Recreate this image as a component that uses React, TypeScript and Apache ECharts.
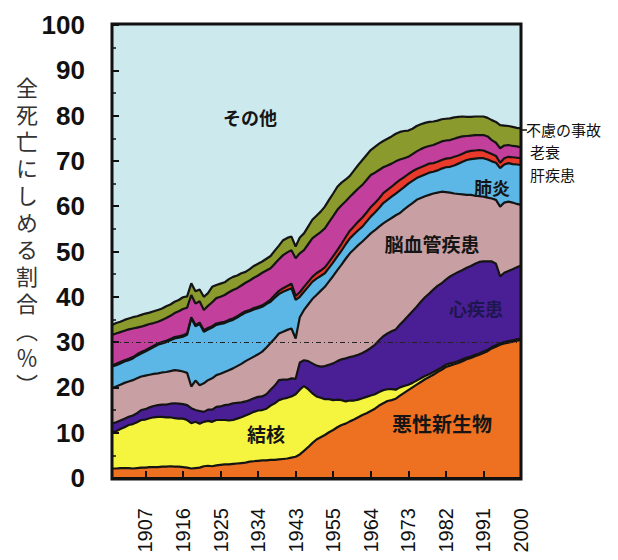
import React, { useEffect, useRef } from 'react';
import * as echarts from 'echarts';

const years = [
  '1899','1900','1901','1902','1903','1904','1905','1906','1907','1908','1909',
  '1910','1911','1912','1913','1914','1915','1916','1917','1918','1919','1920',
  '1921','1922','1923','1924','1925','1926','1927','1928','1929','1930','1931',
  '1932','1933','1934','1935','1936','1937','1938','1939','1940','1941','1942','1943',
  '1947','1948','1949','1950','1951','1952','1953','1954','1955','1956','1957',
  '1958','1959','1960','1961','1962','1963','1964','1965','1966','1967','1968',
  '1969','1970','1971','1972','1973','1974','1975','1976','1977','1978','1979',
  '1980','1981','1982','1983','1984','1985','1986','1987','1988','1989','1990',
  '1991','1992','1993','1994','1995','1996','1997','1998','1999','2000'
];

const tickYears = ['1907','1916','1925','1934','1943','1955','1964','1973','1982','1991','2000'];

// 悪性新生物
const cancer = [
  2.1,2.1,2.2,2.2,2.2,2.1,2.2,2.3,2.3,2.4,2.4,
  2.4,2.5,2.5,2.6,2.5,2.5,2.4,2.3,2.1,2.2,2.3,
  2.6,2.7,2.6,2.8,2.9,3.0,3.0,3.1,3.2,3.3,3.4,
  3.6,3.7,3.8,3.9,3.9,4.0,4.0,4.1,4.2,4.3,4.5,4.7,
  5.2,6.0,6.8,7.7,8.5,9.0,9.5,10.1,10.6,11.2,11.7,
  12.0,12.5,12.9,13.4,13.9,14.3,14.8,15.3,16.0,16.5,17.0,
  17.2,17.5,18.2,18.8,19.4,20.0,20.6,21.2,21.8,22.3,22.8,
  23.4,23.9,24.5,24.8,25.1,25.4,25.8,26.2,26.5,26.9,27.2,
  27.6,28.0,28.6,29.0,29.4,29.7,29.9,30.1,30.3,30.5
];
// 結核
const tuberculosis = [
  7.9,8.2,8.6,9.0,9.5,9.8,10.1,10.5,10.6,10.8,11.0,
  11.1,11.0,10.9,10.8,10.7,10.6,10.7,10.5,10.0,10.2,9.7,
  9.8,9.9,9.8,10.0,9.9,9.8,9.7,9.7,9.9,10.1,10.4,
  10.6,10.9,11.1,11.1,11.4,12.0,12.5,13.1,13.3,13.4,13.5,13.8,
  14.3,14.3,12.8,11.0,9.5,8.7,7.9,7.3,6.6,6.1,5.5,
  4.9,4.6,4.2,3.9,3.7,3.6,3.4,3.2,3.0,2.9,2.6,
  2.4,2.0,1.8,1.5,1.2,1.0,0.9,0.8,0.7,0.6,0.6,
  0.5,0.5,0.5,0.5,0.4,0.4,0.4,0.4,0.3,0.3,0.3,
  0.3,0.3,0.3,0.3,0.3,0.3,0.3,0.3,0.3,0.3
];
// 心疾患
const heart = [
  2.0,2.0,1.9,1.9,1.8,1.9,2.0,2.2,2.3,2.4,2.5,
  2.6,2.7,2.8,3.0,3.3,3.3,3.2,3.3,3.3,2.6,2.8,
  2.2,2.5,2.7,2.9,3.0,3.3,3.5,3.7,3.5,3.3,3.1,
  3.0,3.0,3.0,3.0,3.2,3.5,3.9,4.4,4.2,4.0,4.0,3.4,
  6.0,5.7,6.2,6.6,6.8,6.9,7.3,7.6,8.1,8.5,9.0,
  9.5,9.6,9.8,9.9,10.0,10.2,10.5,10.9,11.4,11.9,12.3,
  12.8,13.3,13.9,14.5,15.2,15.8,16.3,16.9,17.4,17.8,18.2,
  18.5,18.6,18.8,19.2,19.5,19.7,19.7,19.8,20.0,20.1,20.2,
  19.9,19.5,18.9,18.0,14.8,15.3,15.5,15.7,15.9,16.1
];
// 脳血管疾患
const cerebrovascular = [
  7.8,7.9,7.9,7.9,7.8,7.8,7.7,7.4,7.4,7.2,7.1,
  7.0,7.1,7.2,7.2,7.3,7.3,7.2,7.1,4.8,6.5,5.7,
  6.3,6.5,6.9,7.0,7.2,7.3,7.6,7.7,8.1,8.5,8.9,
  9.1,9.2,9.4,9.9,10.3,10.3,10.4,10.3,10.6,11.0,11.0,8.9,
  10.0,11.1,12.5,14.2,15.6,16.7,17.5,18.4,19.3,20.1,20.9,
  22.0,22.9,23.6,24.2,24.6,25.0,25.3,25.3,25.1,24.9,24.9,
  25.0,25.2,24.6,24.5,24.2,23.9,23.6,22.9,22.3,21.8,21.2,
  20.6,20.2,19.3,18.5,17.8,17.2,16.7,16.1,15.7,15.0,14.5,
  14.3,14.1,13.9,14.1,15.4,15.5,15.3,14.7,14.0,13.4
];
// 肺炎
const pneumonia = [
  4.8,4.7,4.7,4.7,4.7,4.8,5.0,5.1,5.3,5.6,5.9,
  6.3,6.4,6.6,6.8,7.0,7.3,7.7,8.4,15.0,12.0,13.5,
  11.4,11.2,11.2,11.1,11.0,10.8,10.8,10.7,10.7,10.8,10.7,
  10.5,10.4,10.2,9.9,9.6,9.1,9.0,8.7,8.8,8.8,8.9,8.5,
  4.5,4.0,3.9,3.8,3.6,3.3,3.0,3.0,3.0,3.0,3.1,
  3.2,3.3,3.3,3.3,3.3,3.5,3.7,3.9,4.1,4.5,4.6,
  4.7,4.8,5.0,4.9,5.0,4.9,4.8,4.8,4.8,4.9,4.8,
  4.9,5.1,5.5,5.7,6.2,6.7,7.2,7.7,7.9,8.2,8.4,
  8.5,8.4,8.2,8.2,8.5,8.4,8.5,8.5,8.7,8.8
];
// 肝疾患
const liver = [
  0.3,0.3,0.3,0.3,0.3,0.3,0.3,0.3,0.3,0.3,0.3,
  0.3,0.3,0.3,0.3,0.3,0.3,0.3,0.3,0.3,0.3,0.3,
  0.3,0.3,0.3,0.3,0.3,0.3,0.3,0.3,0.3,0.3,0.3,
  0.3,0.3,0.3,0.3,0.3,0.5,0.6,0.7,0.8,0.9,1.0,0.9,
  1.0,1.1,1.1,1.1,1.2,1.2,1.3,1.3,1.4,1.4,1.5,
  1.6,1.7,1.8,1.9,2.0,2.0,2.1,2.1,2.1,2.2,2.2,
  2.2,2.3,2.3,2.2,2.1,2.1,2.0,2.0,2.0,2.0,1.9,
  1.9,1.9,1.9,1.9,1.9,1.8,1.8,1.8,1.8,1.8,1.8,
  1.7,1.6,1.6,1.5,1.2,1.4,1.4,1.5,1.5,1.5
];
// 老衰
const senility = [
  6.7,6.7,6.6,6.5,6.5,6.3,5.9,5.6,5.5,5.3,5.0,
  4.8,4.9,5.0,5.1,5.3,5.5,5.8,5.7,4.9,4.7,4.7,
  4.5,4.9,5.3,5.6,5.7,5.9,6.1,6.3,6.2,6.2,6.3,
  6.5,6.7,6.9,7.2,7.1,6.9,6.9,7.0,7.3,7.4,7.4,8.3,
  8.6,8.1,8.3,8.5,8.4,8.5,8.6,8.8,8.8,8.9,8.5,
  7.9,7.5,7.4,7.3,7.2,7.2,7.1,6.7,6.3,5.7,5.4,
  5.1,4.8,4.5,4.2,3.8,3.8,3.9,4.0,4.0,3.9,4.0,
  4.1,4.1,4.0,4.0,4.0,4.0,3.8,3.5,3.4,3.4,3.3,
  3.4,3.5,3.1,2.9,3.2,2.8,2.6,2.5,2.5,2.4
];
// 不慮の事故
const accident = [
  2.2,2.3,2.3,2.4,2.4,2.5,2.5,2.6,2.6,2.5,2.6,
  2.6,2.5,2.6,2.5,2.5,2.5,2.6,2.5,2.6,2.7,2.6,
  2.9,2.8,3.4,2.9,2.9,2.8,2.9,2.9,2.8,2.7,2.4,
  2.5,2.6,2.6,2.5,2.6,2.7,2.9,3.0,3.3,3.2,3.0,2.6,
  3.5,3.7,3.9,4.1,4.3,4.5,4.8,4.9,5.0,5.1,5.0,
  4.8,4.6,4.9,5.2,5.5,5.5,5.5,5.7,5.8,5.8,5.9,
  6.0,6.1,6.1,6.0,5.8,5.6,5.6,5.5,5.4,5.3,5.2,
  5.0,4.9,4.8,4.8,4.7,4.5,4.4,4.2,4.1,4.1,4.1,
  4.1,4.1,4.4,4.6,5.1,4.4,4.2,4.2,4.1,4.2
];

const seriesNames = ['悪性新生物', '結核', '心疾患', '脳血管疾患', '肺炎', '肝疾患', '老衰', '不慮の事故'];
const seriesData = [cancer, tuberculosis, heart, cerebrovascular, pneumonia, liver, senility, accident];
const seriesColors = ['#ee7122', '#f5f540', '#4a1f95', '#c8a0a4', '#5db7e6', '#e8392a', '#c23f9c', '#8b9a2c'];

const yTitle = '全死亡にしめる割合（％）';

const GRID = { left: 112, top: 25, right: 97, bottom: 82 };
const JP = '"Noto Sans CJK JP", "Noto Sans CJK SC", sans-serif';

export default function App() {
  const ref = useRef<HTMLDivElement>(null);

  useEffect(() => {
    if (!ref.current) return;
    const chart = echarts.init(ref.current, undefined, { renderer: 'svg' });
    const showTick = (_i: number, v: string) => tickYears.includes(v);

    const series: any[] = seriesNames.map((name, k) => ({
      name,
      type: 'line',
      stack: 'total',
      data: seriesData[k],
      symbol: 'none',
      showSymbol: false,
      smooth: false,
      lineStyle: { color: '#141414', width: 2.2 },
      areaStyle: { color: seriesColors[k], opacity: 1 },
      z: 2,
    }));
    series[series.length - 1].markLine = {
      silent: true,
      symbol: ['none', 'none'],
      label: { show: false },
      lineStyle: { color: '#222', width: 1, type: [5, 3, 1, 3] },
      data: [{ yAxis: 30 }],
      z: 6,
    };

    const innerLabel = (text: string, x: number, y: number, size: number, color = '#151515') => ({
      type: 'text',
      x,
      y,
      z: 50,
      style: {
        text,
        fill: color,
        fontSize: size,
        fontWeight: 'bold',
        fontFamily: JP,
        align: 'center',
        verticalAlign: 'middle',
        textAlign: 'center',
        textVerticalAlign: 'middle',
      },
    });
    const sideLabel = (text: string, x: number, y: number) => ({
      type: 'text',
      x,
      y,
      z: 50,
      style: {
        text,
        fill: '#111',
        fontSize: 15,
        lineHeight: 15,
        fontFamily: JP,
        align: 'left',
        verticalAlign: 'middle',
        textAlign: 'left',
        textVerticalAlign: 'middle',
      },
    });

    chart.setOption({
      animation: false,
      backgroundColor: 'transparent',
      grid: {
        ...GRID,
        show: true,
        backgroundColor: '#cce9ee',
        borderColor: '#111',
        borderWidth: 0,
        containLabel: false,
      },
      xAxis: {
        type: 'category',
        data: years,
        boundaryGap: false,
        z: 10,
        axisLine: { show: true, lineStyle: { color: '#111', width: 2 } },
        axisTick: { show: true, inside: true, length: 7, interval: showTick, lineStyle: { color: '#111', width: 2 } },
        axisLabel: {
          interval: showTick,
          rotate: 90,
          fontSize: 20,
          color: '#111',
          fontFamily: '"Liberation Sans", Arial, sans-serif',
          margin: 30,
        },
        splitLine: { show: false },
      },
      yAxis: {
        type: 'value',
        min: 0,
        max: 100,
        interval: 10,
        z: 10,
        axisLine: { show: true, lineStyle: { color: '#111', width: 2 } },
        axisTick: { show: true, inside: true, length: 7, lineStyle: { color: '#111', width: 2 } },
        minorTick: { show: true, splitNumber: 2, length: 4, lineStyle: { color: '#111', width: 1.5 } },
        axisLabel: {
          fontSize: 26,
          fontWeight: 'bold',
          color: '#111',
          fontFamily: '"Liberation Sans", Arial, sans-serif',
          margin: 27,
        },
        splitLine: { show: false },
      },
      series,
      graphic: [
        {
          type: 'rect',
          z: 60,
          shape: { x: 112, y: 24, width: 409, height: 455 },
          style: { fill: 'none', stroke: '#111', lineWidth: 3 },
        },
        innerLabel('その他', 250, 117, 18),
        innerLabel('結核', 266, 433, 19),
        innerLabel('悪性新生物', 442, 423, 20),
        innerLabel('心疾患', 476, 308, 18, '#1e1650'),
        innerLabel('脳血管疾患', 432, 243, 19),
        innerLabel('肺炎', 492, 187, 18),
        sideLabel('不慮の事故', 526, 129),
        sideLabel('老衰', 530, 151.5),
        sideLabel('肝疾患', 530, 174),
        {
          type: 'line',
          z: 60,
          shape: { x1: 521, y1: 130, x2: 527, y2: 130 },
          style: { stroke: '#111', lineWidth: 1.5 },
        },
      ],
    });

    return () => chart.dispose();
  }, []);

  return (
    <div style={{ position: 'fixed', left: 0, top: 0, width: 618, height: 560, background: '#fff' }}>
      <div ref={ref} style={{ position: 'absolute', left: 0, top: 0, width: 618, height: 560 }} />
      <div
        style={{
          position: 'absolute',
          left: 14,
          top: 77,
          width: 26,
          writingMode: 'vertical-rl',
          fontFamily: JP,
          fontSize: 22,
          lineHeight: '26px',
          letterSpacing: '5px',
          color: '#333',
          whiteSpace: 'nowrap',
          pointerEvents: 'none',
        }}
      >
        {yTitle}
      </div>
    </div>
  );
}
